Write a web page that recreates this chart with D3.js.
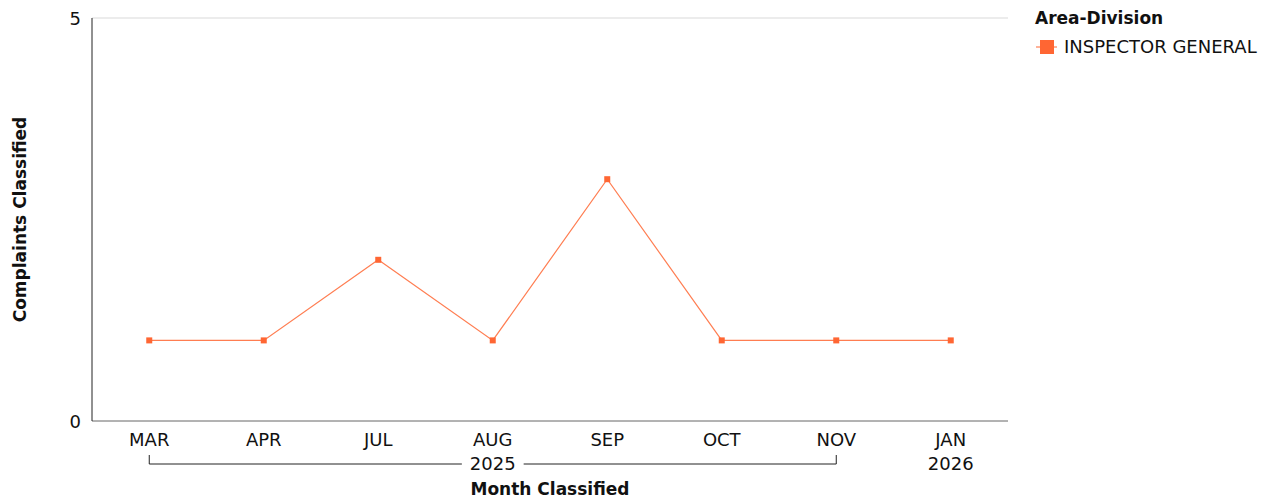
<!DOCTYPE html>
<html>
<head>
<meta charset="utf-8">
<script src="https://cdn.jsdelivr.net/npm/d3@7"></script>
<style>
  body { margin: 0; background: #fff; }
  svg text { font-family: "DejaVu Sans", sans-serif; fill: #111; }
</style>
</head>
<body>
<svg id="chart"></svg>
<script>
var width = 1268;
var height = 500;
var margin = { top: 18, right: 260, bottom: 79, left: 92 };

var months = ['MAR', 'APR', 'JUL', 'AUG', 'SEP', 'OCT', 'NOV', 'JAN'];
var years = ['2025', '2025', '2025', '2025', '2025', '2025', '2025', '2026'];
var complaints = [1, 1, 2, 1, 3, 1, 1, 1];
var yTicks = [0, 5];
var seriesName = 'INSPECTOR GENERAL';
var color = '#ff6633';

var data = months.map((m, i) => ({ key: m + i, month: m, year: years[i], value: complaints[i] }));

var svg = d3.select('#chart')
  .attr('width', width)
  .attr('height', height);

var xScale = d3.scaleBand()
  .domain(data.map(d => d.key))
  .range([margin.left, 1008]);

var yScale = d3.scaleLinear()
  .domain([0, 5])
  .range([height - margin.bottom, margin.top]);

var cx = d => xScale(d.key) + xScale.bandwidth() / 2;

// top grid line
svg.append('line')
  .attr('x1', margin.left)
  .attr('x2', 1008)
  .attr('y1', yScale(5))
  .attr('y2', yScale(5))
  .attr('stroke', '#d9d9d9');

// x axis line
svg.append('line')
  .attr('x1', margin.left)
  .attr('x2', 1008)
  .attr('y1', yScale(0))
  .attr('y2', yScale(0))
  .attr('stroke', '#666');

// y axis
svg.append('line')
  .attr('x1', margin.left)
  .attr('x2', margin.left)
  .attr('y1', yScale(0))
  .attr('y2', yScale(5))
  .attr('stroke', '#222');

svg.selectAll('.y-tick')
  .data(yTicks)
  .enter()
  .append('text')
  .attr('class', 'y-tick')
  .attr('x', margin.left - 11)
  .attr('y', d => yScale(d) + 7)
  .style('text-anchor', 'end')
  .style('font-size', '18px')
  .text(d => d);

// month labels
svg.selectAll('.x-tick')
  .data(data)
  .enter()
  .append('text')
  .attr('class', 'x-tick')
  .attr('x', cx)
  .attr('y', yScale(0) + 25)
  .style('text-anchor', 'middle')
  .style('font-size', '18px')
  .text(d => d.month);

// year groups
var groups = d3.groups(data, d => d.year);
groups.forEach(function(g) {
  var first = g[1][0];
  var last = g[1][g[1].length - 1];
  var x0 = cx(first);
  var x1 = cx(last);
  var mid = (x0 + x1) / 2;
  var ly = yScale(0) + 43;
  var label = svg.append('text')
    .attr('x', mid)
    .attr('y', ly + 6)
    .style('text-anchor', 'middle')
    .style('font-size', '18px')
    .text(g[0]);
  if (g[1].length > 1) {
    var half = label.node().getComputedTextLength() / 2 + 8;
    svg.append('path')
      .attr('d', 'M' + x0 + ',' + (ly - 9) + 'V' + ly + 'H' + (mid - half)
        + 'M' + (mid + half) + ',' + ly + 'H' + x1 + 'V' + (ly - 9))
      .attr('fill', 'none')
      .attr('stroke', '#222');
  }
});

// axis titles
svg.append('text')
  .attr('x', (margin.left + 1008) / 2)
  .attr('y', height - 5)
  .style('text-anchor', 'middle')
  .style('font-size', '17px')
  .style('font-weight', 'bold')
  .text('Month Classified');

svg.append('text')
  .attr('transform', 'rotate(-90)')
  .attr('x', -(yScale(0) + yScale(5)) / 2)
  .attr('y', 26)
  .style('text-anchor', 'middle')
  .style('font-size', '17px')
  .style('font-weight', 'bold')
  .text('Complaints Classified');

// series line
var line = d3.line()
  .x(cx)
  .y(d => yScale(d.value));

svg.append('path')
  .datum(data)
  .attr('d', line)
  .attr('fill', 'none')
  .attr('stroke', color)
  .attr('stroke-opacity', 0.85)
  .attr('stroke-width', 1.2);

svg.selectAll('.marker')
  .data(data)
  .enter()
  .append('rect')
  .attr('class', 'marker')
  .attr('x', d => cx(d) - 3)
  .attr('y', d => yScale(d.value) - 3)
  .attr('width', 6)
  .attr('height', 6)
  .attr('fill', color);

// legend
var legend = svg.append('g').attr('transform', 'translate(1035,0)');
legend.append('text')
  .attr('x', 0)
  .attr('y', 24)
  .style('font-size', '17px')
  .style('font-weight', 'bold')
  .text('Area-Division');
legend.append('line')
  .attr('x1', 1)
  .attr('x2', 22)
  .attr('y1', 47)
  .attr('y2', 47)
  .attr('stroke', color);
legend.append('rect')
  .attr('x', 5)
  .attr('y', 40)
  .attr('width', 14)
  .attr('height', 14)
  .attr('fill', color);
legend.append('text')
  .attr('x', 29)
  .attr('y', 53)
  .style('font-size', '18px')
  .text(seriesName);
</script>
</body>
</html>
